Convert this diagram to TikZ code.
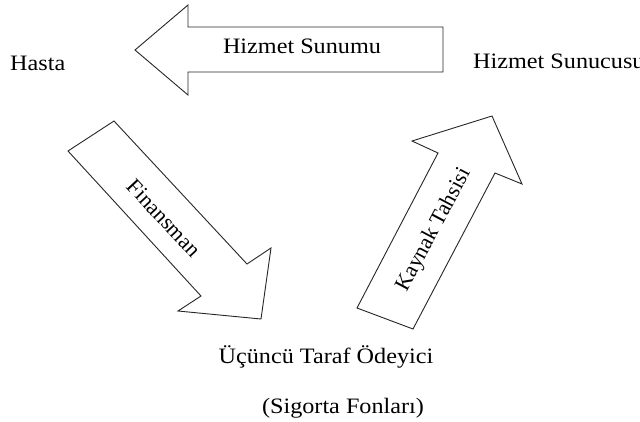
\documentclass[tikz,border=0pt]{standalone}
\usepackage{fontspec}
\setmainfont{Liberation Serif}
\newfontfamily\widefont[FakeStretch=1.1]{Liberation Serif}
\begin{document}
\begin{tikzpicture}[x=1pt,y=-1pt,
  arrowshape/.style={draw=black!85, line width=0.9pt, fill=white, line join=miter},
  lbl/.style={font=\fontsize{22}{26}\selectfont, inner sep=0pt},
  hlbl/.style={font=\widefont\fontsize{22}{26}\selectfont, inner sep=0pt}]
\useasboundingbox (0,0) rectangle (640,421);
% top arrow: Hizmet Sunumu
\draw[arrowshape] (135,50) -- (188,5) -- (188,27) -- (443,27) -- (443,72) -- (188,72) -- (188,95) -- cycle;
\node[hlbl, anchor=base] (hs) at (302,53) {Hizmet Sunumu};
% Finansman arrow
\draw[arrowshape] (68,151) -- (114,121) -- (247,264) -- (271,248) -- (261,319) -- (178,311) -- (201,296) -- cycle;
\node[lbl, rotate=-47] (fin) at (164,218) {Finansman};
% Kaynak Tahsisi arrow
\draw[arrowshape] (357,308) -- (413,329) -- (495,173) -- (522,184) -- (492,116) -- (412,141) -- (438,153) -- cycle;
\node[lbl, rotate=62] (kt) at (434,230) {Kaynak Tahsisi};
% labels
\node[hlbl, anchor=base west] (hasta) at (10,70) {Hasta};
\node[hlbl, anchor=base west] (sun) at (473,68) {Hizmet Sunucusu};
\node[hlbl, anchor=base] (ucu) at (326,363) {Üçüncü Taraf Ödeyici};
\node[hlbl, anchor=base] (sig) at (343,413) {(Sigorta Fonları)};
\end{tikzpicture}
\end{document}
